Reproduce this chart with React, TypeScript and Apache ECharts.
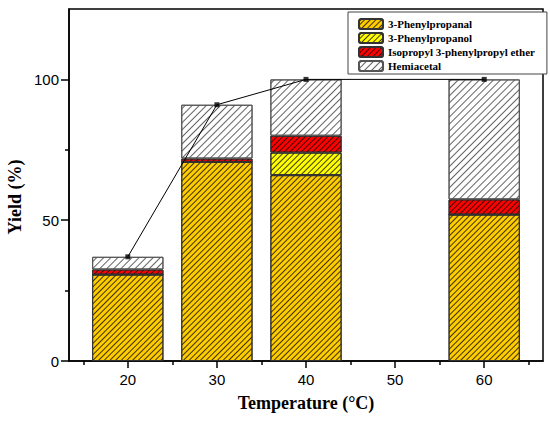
import React, { useEffect, useRef } from "react";
import * as echarts from "echarts";

const temperatures = [20, 30, 40, 60];
const propanal = [30.7, 70.7, 66, 52];
const propanol = [0, 0, 8, 0];
const ether = [1.8, 1.2, 6, 5.4];
const hemiacetal = [4.5, 19.1, 20, 42.6];
const totalYield = [37, 91, 100, 100];
const xTickLabels = [20, 30, 40, 50, 60];
const xMinorTicks = [15, 25, 35, 45, 55, 65];
const yTickLabels = [0, 50, 100];
const yMinorTicks = [25, 75];
const seriesNames = [
  "3-Phenylpropanal",
  "3-Phenylpropanol",
  "Isopropyl 3-phenylpropyl ether",
  "Hemiacetal",
];

const X_MIN = 13.4;
const X_MAX = 66.6;
const Y_MIN = 0;
const Y_MAX = 125;

const serif = "'Liberation Serif', 'Times New Roman', serif";
const sans = "'Liberation Sans', Arial, sans-serif";

function hatch(color: string, gap: number) {
  return {
    symbol: "rect",
    symbolSize: 1,
    color,
    dashArrayX: [1, 0],
    dashArrayY: [1, gap],
    rotation: -Math.PI / 4,
  };
}

export default function App() {
  const ref = useRef<HTMLDivElement>(null);
  useEffect(() => {
    document.body.style.margin = "0";
    if (!ref.current) return;
    const chart = echarts.init(ref.current, undefined, { renderer: "svg" });

    const W = 550;
    const frameLeft = 69;
    const frameRight = 7;
    const plotW = W - frameLeft - frameRight;
    const pxPerUnit = plotW / (X_MAX - X_MIN);
    const step = xTickLabels[1] - xTickLabels[0];
    const catLeft = frameLeft + (xTickLabels[0] - step / 2 - X_MIN) * pxPerUnit;
    const catRight =
      frameRight + (X_MAX - (xTickLabels[xTickLabels.length - 1] + step / 2)) * pxPerUnit;

    const byCategory = (vals: number[]) =>
      xTickLabels.map((c) => {
        const i = temperatures.indexOf(c);
        return i >= 0 ? vals[i] : "-";
      });

    const barBase = {
      type: "bar" as const,
      stack: "total",
      barWidth: "80%",
      xAxisIndex: 2,
      yAxisIndex: 2,
    };
    const tickLine = { color: "#000", width: 1.5 };
    const totalPairs = temperatures.map((t, i) => [t, totalYield[i]]);

    chart.setOption({
      animation: false,
      backgroundColor: "#fff",
      grid: [
        {
          left: frameLeft,
          right: frameRight,
          top: 9,
          bottom: 61,
          show: true,
          borderColor: "#000",
          borderWidth: 1.5,
          backgroundColor: "transparent",
        },
        {
          left: catLeft,
          right: catRight,
          top: 9,
          bottom: 61,
        },
      ],
      legend: {
        data: seriesNames,
        orient: "vertical",
        left: 348,
        top: 12,
        width: 193,
        padding: [6, 12, 2, 10],
        itemWidth: 24,
        itemHeight: 10,
        itemGap: 2,
        borderColor: "#444",
        borderWidth: 1,
        backgroundColor: "#fff",
        z: 1,
        textStyle: {
          fontFamily: serif,
          fontWeight: "bold",
          fontSize: 11,
          lineHeight: 12,
          color: "#000",
        },
      },
      xAxis: [
        {
          type: "value",
          gridIndex: 0,
          min: X_MIN,
          max: X_MAX,
          name: "Temperature (°C)",
          nameLocation: "middle",
          nameGap: 33,
          nameTextStyle: {
            fontFamily: serif,
            fontWeight: "bold",
            fontSize: 18,
            color: "#000",
          },
          splitLine: { show: false },
          axisLine: { show: true, lineStyle: tickLine },
          axisTick: {
            show: true,
            inside: false,
            length: 7,
            customValues: xTickLabels,
            lineStyle: tickLine,
          },
          axisLabel: {
            customValues: xTickLabels,
            margin: 11,
            fontFamily: sans,
            fontSize: 15,
            color: "#000",
          },
        },
        {
          type: "value",
          gridIndex: 0,
          min: X_MIN,
          max: X_MAX,
          position: "bottom",
          splitLine: { show: false },
          axisLine: { show: false },
          axisLabel: { show: false },
          axisTick: {
            show: true,
            inside: false,
            length: 4,
            customValues: xMinorTicks,
            lineStyle: tickLine,
          },
        },
        {
          type: "category",
          gridIndex: 1,
          data: xTickLabels.map(String),
          boundaryGap: true,
          show: false,
        },
      ],
      yAxis: [
        {
          type: "value",
          gridIndex: 0,
          min: Y_MIN,
          max: Y_MAX,
          splitLine: { show: false },
          axisLine: { show: true, lineStyle: tickLine },
          axisTick: {
            show: true,
            inside: false,
            length: 8,
            customValues: yTickLabels,
            lineStyle: tickLine,
          },
          axisLabel: {
            customValues: yTickLabels,
            margin: 10,
            fontFamily: sans,
            fontSize: 15,
            color: "#000",
          },
        },
        {
          type: "value",
          gridIndex: 0,
          min: Y_MIN,
          max: Y_MAX,
          position: "left",
          splitLine: { show: false },
          axisLine: { show: false },
          axisLabel: { show: false },
          axisTick: {
            show: true,
            inside: false,
            length: 4,
            customValues: yMinorTicks,
            lineStyle: tickLine,
          },
        },
        {
          type: "value",
          gridIndex: 1,
          min: Y_MIN,
          max: Y_MAX,
          show: false,
        },
      ],
      graphic: [
        {
          type: "text",
          x: 15,
          y: 197,
          rotation: Math.PI / 2,
          style: {
            text: "Yield (%)",
            fontFamily: serif,
            fontWeight: "bold",
            fontSize: 18,
            fill: "#000",
            textAlign: "center",
            textVerticalAlign: "middle",
          },
        },
      ],
      series: [
        {
          ...barBase,
          name: seriesNames[0],
          data: byCategory(propanal),
          itemStyle: {
            color: "#FFCC00",
            borderColor: "#333",
            borderWidth: 1,
            decal: hatch("rgba(0,0,0,0.75)", 3),
          },
        },
        {
          ...barBase,
          name: seriesNames[1],
          data: byCategory(propanol),
          itemStyle: {
            color: "#FFFF00",
            borderColor: "#333",
            borderWidth: 1,
            decal: hatch("rgba(0,0,0,0.75)", 3),
          },
        },
        {
          ...barBase,
          name: seriesNames[2],
          data: byCategory(ether),
          itemStyle: {
            color: "#FF0000",
            borderColor: "#333",
            borderWidth: 1,
            decal: hatch("rgba(0,0,0,0.75)", 3),
          },
        },
        {
          ...barBase,
          name: seriesNames[3],
          data: byCategory(hemiacetal),
          itemStyle: {
            color: "#FFFFFF",
            borderColor: "#555",
            borderWidth: 1,
            decal: hatch("rgba(60,60,60,0.8)", 4),
          },
        },
        {
          type: "custom",
          name: "Total line",
          coordinateSystem: "cartesian2d",
          xAxisIndex: 0,
          yAxisIndex: 0,
          z: 20,
          clip: false,
          silent: true,
          data: totalPairs,
          encode: { x: 0, y: 1 },
          renderItem: (params: any, api: any) => {
            if (params.dataIndex !== 0) return null;
            const pts = totalPairs.map((p) => api.coord(p));
            return {
              type: "polyline",
              shape: { points: pts },
              style: { stroke: "#000", lineWidth: 1, fill: null },
            };
          },
        },
        {
          type: "scatter",
          name: "Total",
          xAxisIndex: 0,
          yAxisIndex: 0,
          z: 21,
          data: totalPairs,
          symbol: "rect",
          symbolSize: 5,
          itemStyle: { color: "#000" },
        },
      ],
    });
    return () => chart.dispose();
  }, []);
  return <div ref={ref} style={{ width: 550, height: 422 }} />;
}
